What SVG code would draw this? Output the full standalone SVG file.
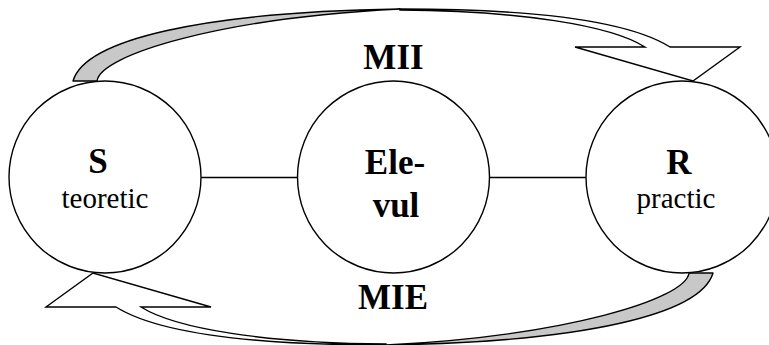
<svg xmlns="http://www.w3.org/2000/svg" xmlns:xlink="http://www.w3.org/1999/xlink" width="769" height="345" viewBox="0 0 769 345">
<style>
  .node { fill: #ffffff; stroke: #000000; stroke-width: 1.4; }
  .link { stroke: #000000; stroke-width: 1.4; fill: none; }
  .back { fill: #c8c8c8; stroke: #000000; stroke-width: 1.4; stroke-linejoin: round; }
  .front { fill: #ffffff; stroke: #000000; stroke-width: 1.4; stroke-linejoin: miter; }
  .b { font-family: "Liberation Serif", "Times New Roman", serif; font-weight: bold; font-size: 35px; text-anchor: middle; fill: #000; }
  .r { font-family: "Liberation Serif", "Times New Roman", serif; font-weight: normal; font-size: 29px; text-anchor: middle; fill: #000; }
</style>
<defs>
  <g id="curvedArrow">
    <path class="back" d="M73,81 C85,40 200,12 400,9 C220,18 100,55 97,81 Z"/>
    <path class="front" d="M400,9 C540,9 630,22 670,47 L740,47 L693,81 L575,47 L645,47 C610,25 520,11 400,10 Z"/>
  </g>
</defs>
<rect width="769" height="345" fill="#ffffff"/>
<g id="connectors">
  <use xlink:href="#curvedArrow"/>
  <use xlink:href="#curvedArrow" transform="rotate(180 393 177)"/>
  <line class="link" x1="201" y1="177.5" x2="298" y2="177.5"/>
  <line class="link" x1="489" y1="177.5" x2="586" y2="177.5"/>
  <text class="b" x="393.5" y="69">MII</text>
  <text class="b" x="393" y="309">MIE</text>
</g>
<g id="node-S">
  <circle class="node" cx="105" cy="177" r="96"/>
  <text class="b" x="98" y="173">S</text>
  <text class="r" x="105" y="208">teoretic</text>
</g>
<g id="node-Elevul">
  <circle class="node" cx="393.5" cy="177" r="96"/>
  <text class="b" x="395" y="174">Ele-</text>
  <text class="b" x="396" y="217">vul</text>
</g>
<g id="node-R">
  <circle class="node" cx="682" cy="177" r="96"/>
  <text class="b" x="679" y="174">R</text>
  <text class="r" x="676" y="208">practic</text>
</g>
</svg>
